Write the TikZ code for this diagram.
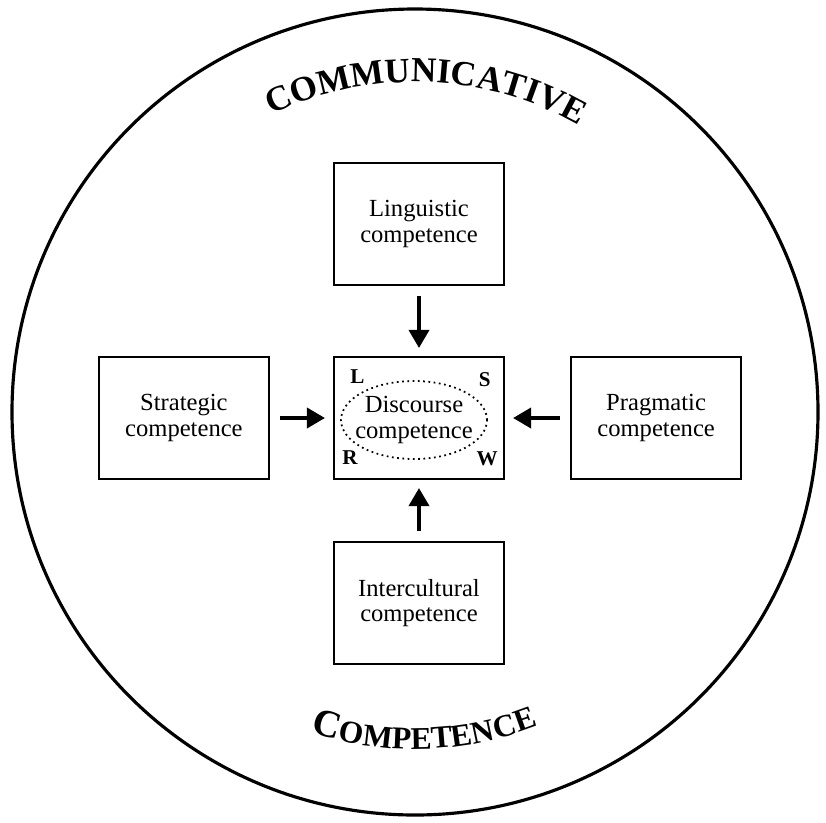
\documentclass[tikz,border=0pt]{standalone}
\usepackage{fontspec}
\setmainfont{Liberation Serif}
\usetikzlibrary{positioning,arrows.meta,decorations.text}
\tikzset{
  compBox/.style={draw,line width=1.2pt,minimum width=3.4cm,minimum height=2.44cm,inner sep=0pt,align=center,font=\fontsize{14}{14.5}\selectfont},
  skillMark/.style={inner sep=0pt,font=\bfseries\fontsize{12}{12}\selectfont},
  feedArrow/.style={line width=2.1pt,-{Triangle[length=0.36cm,width=0.4cm]},shorten <=0.2cm,shorten >=0.16cm}
}

\begin{document}
\begin{tikzpicture}
\useasboundingbox (-8.3,-8.2) rectangle (8.22,8.24);
\draw[line width=1.8pt] (0,0) circle[radius=8.06];
\path[decorate,decoration={text along path,text align=center,
  text={|\bfseries\fontsize{20}{20}\selectfont|COMMUNICATIVE}}]
  (123:6.6) arc[start angle=123,end angle=53,radius=6.6];
\path[decorate,decoration={text along path,text align=center,
  text={|\bfseries\fontsize{22}{22}\selectfont|C|\bfseries\fontsize{18}{18}\selectfont|OMPETENCE}}]
  (236.7:6.74) arc[start angle=236.7,end angle=306.7,radius=6.74];
\node (disc) [compBox] at (0.08,-0.12) {};
\node (discText) [inner sep=0pt,align=center,font=\fontsize{14}{14.5}\selectfont] at ([shift={(-0.1,-0.04)}]disc.center) {Discourse\\competence};
\draw[dotted,line width=1pt] (discText.center) ellipse[x radius=1.46,y radius=0.78];
\node (ling) [compBox,above=1.4cm of disc] {Linguistic\\competence};
\node (inter) [compBox,below=1.22cm of disc] {Intercultural\\competence};
\node (strat) [compBox,left=1.26cm of disc] {Strategic\\competence};
\node (prag) [compBox,right=1.3cm of disc] {Pragmatic\\competence};
\node (markL) [skillMark,anchor=north west] at ([shift={(0.34,-0.26)}]disc.north west) {L};
\node (markS) [skillMark,anchor=north east] at ([shift={(-0.28,-0.32)}]disc.north east) {S};
\node (markR) [skillMark,anchor=south west] at ([shift={(0.18,0.3)}]disc.south west) {R};
\node (markW) [skillMark,anchor=south east] at ([shift={(-0.14,0.28)}]disc.south east) {W};
\draw[feedArrow] (ling) -- (disc);
\draw[feedArrow] (inter) -- (disc);
\draw[feedArrow] (strat) -- (disc);
\draw[feedArrow] (prag) -- (disc);
\end{tikzpicture}
\end{document}
